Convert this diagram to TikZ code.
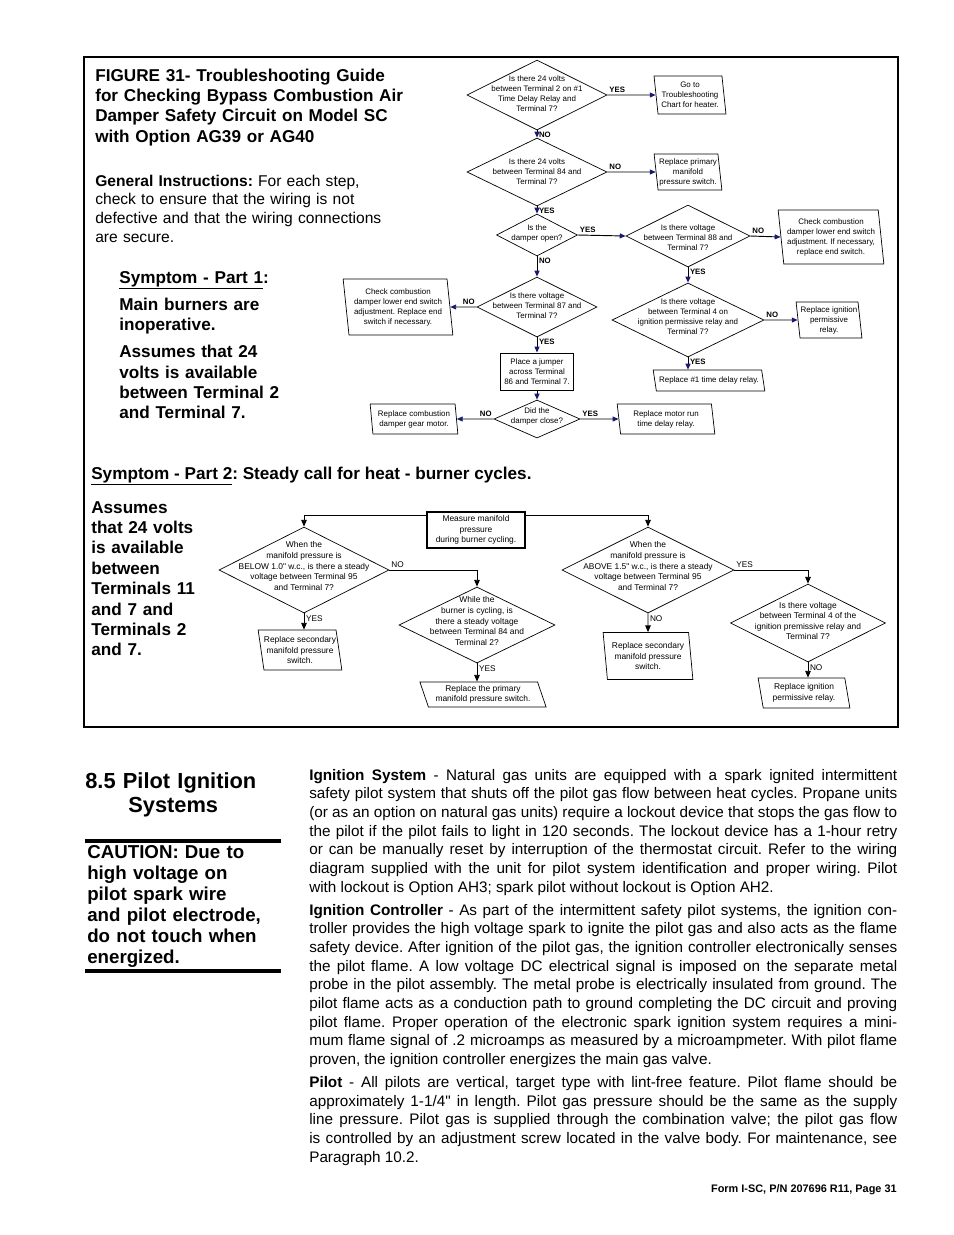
\documentclass[tikz,border=0pt]{standalone}
\usepackage{fontspec}
\setmainfont{Liberation Sans}[Ligatures=TeXOff]
\usetikzlibrary{positioning,arrows.meta,shapes.geometric,calc}
\definecolor{tipnavy}{RGB}{25,25,112}

\begin{document}
\frenchspacing
\begin{tikzpicture}[x=0.6415pt,y=-0.6415pt,
sz/.style 2 args={minimum width={#1*0.6415pt},minimum height={#2*0.6415pt}},
query/.style={draw,diamond,aspect=1,inner sep=0pt,line width=0.45pt},
qtext/.style={align=center,inner sep=0pt,font=\fontsize{5.1}{6.4}\selectfont},
qtextb/.style={align=center,inner sep=0pt,font=\fontsize{5.4}{6.8}\selectfont},
fix/.style={draw,trapezium,trapezium left angle=98,trapezium right angle=82,trapezium stretches=true,inner sep=0pt,line width=0.45pt,align=center,font=\fontsize{5.1}{6.4}\selectfont},
fixb/.style={fix,font=\fontsize{5.4}{6.8}\selectfont},
testbox/.style={draw,rectangle,inner sep=0pt,line width=0.6pt,align=center,font=\fontsize{5.1}{6.4}\selectfont},
measbox/.style={draw,rectangle,inner sep=0pt,line width=1.6pt,align=center,font=\fontsize{5.4}{6.8}\selectfont},
yn/.style={inner sep=1pt,font=\fontsize{5}{6}\selectfont\bfseries},
ynb/.style={inner sep=1pt,font=\fontsize{5.3}{6}\selectfont},
arr/.style={-{Triangle[length=3.8pt,width=3.2pt,color=tipnavy]},line width=0.6pt},
arrb/.style={-{Triangle[length=4.4pt,width=3.6pt]},line width=0.6pt},
bigtxt/.style={inner sep=0pt,align=left,font=\fontsize{11}{13.1}\selectfont\bfseries},
gentxt/.style={inner sep=0pt,align=left,font=\fontsize{10}{12}\selectfont},
body/.style={inner sep=0pt,text width={588*0.6415pt},align=justify,font=\fontsize{9.8}{12}\selectfont}]
\useasboundingbox (0,0) rectangle (954,1235);

% frame of figure 31
\draw[line width=1pt] (84,57) rectangle (898,727);

\node[bigtxt,text width={360*0.6415pt},anchor=base west] (title) at (95,81) {FIGURE 31- Troubleshooting Guide\\for Checking Bypass Combustion Air\\Damper Safety Circuit on Model SC\\with Option AG39 or AG40};
\node[gentxt,text width={330*0.6415pt},anchor=base west] (general) at (95,186) {\textbf{General Instructions:} For each step,\\check to ensure that the wiring is not\\defective and that the wiring connections\\are secure.};
\node[bigtxt,text width={240*0.6415pt},anchor=base west] (sym1) at (119,283) {\underline{Symptom - Part 1}:\\[4.3pt]Main burners are\\inoperative.\\[4.3pt]Assumes that 24\\volts is available\\between Terminal 2\\and Terminal 7.};
\node[bigtxt,anchor=base west] (sym2) at (91,479) {\underline{Symptom - Part 2}: Steady call for heat - burner cycles.};
\node[bigtxt,text width={160*0.6415pt},anchor=base west] (assume2) at (91,513) {Assumes\\that 24 volts\\is available\\between\\Terminals 11\\and 7 and\\Terminals 2\\and 7.};

% part 1
\node[query,sz={140}{70}] (d1) at (537,95) {};
\node[qtext] (d1t) at (537,94) {Is there 24 volts\\between Terminal 2 on \#1\\Time Delay Relay and\\Terminal 7?};
\node[fix,sz={72}{38}] (b1) at (690,95) {Go to\\Troubleshooting\\Chart for heater.};
\node[query,sz={140}{68}] (d2) at (537,172) {};
\node[qtext] (d2t) at (537,172) {Is there 24 volts\\between Terminal 84 and\\Terminal 7?};
\node[fix,sz={68}{36}] (b2) at (688,172) {Replace primary\\manifold\\pressure switch.};
\node[query,sz={81}{42}] (d3) at (537,235) {};
\node[qtext] (d3t) at (537,233) {Is the\\damper open?};
\node[query,sz={124}{62}] (d4) at (688,236) {};
\node[qtext] (d4t) at (688,238) {Is there voltage\\between Terminal 88 and\\Terminal 7?};
\node[fix,sz={106}{54}] (b3) at (831,237) {Check combustion\\damper lower end switch\\adjustment. If necessary,\\replace end switch.};
\node[query,sz={152}{74}] (d5) at (688,320) {};
\node[qtext] (d5t) at (688,317) {Is there voltage\\between Terminal 4 on\\ignition permissive relay and\\Terminal 7?};
\node[fix,sz={66}{36}] (b4) at (829,320) {Replace ignition\\permissive\\relay.};
\node[fix,trapezium left angle=112,trapezium right angle=68,sz={112}{21}] (b5) at (709,380.5) {Replace \#1 time delay relay.};
\node[query,sz={120}{60}] (d6) at (537,307) {};
\node[qtext] (d6t) at (537,306) {Is there voltage\\between Terminal 87 and\\Terminal 7?};
\node[fix,sz={110}{56}] (b6) at (398,307) {Check combustion\\damper lower end switch\\adjustment. Replace end\\switch if necessary.};
\node[testbox,sz={73}{37}] (jumper) at (537,371.5) {Place a jumper\\across Terminal\\86 and Terminal 7.};
\node[query,sz={86}{38}] (d7) at (537,419) {};
\node[qtext] (d7t) at (537,416) {Did the\\damper close?};
\node[fix,sz={88}{30}] (b7) at (414,419) {Replace combustion\\damper gear motor.};
\node[fix,sz={98}{30}] (b8) at (666,419) {Replace motor run\\time delay relay.};

\draw[arr] (d1.east) -- node[yn,pos=0,anchor=south west]{YES} (b1.west);
\draw[arr] (d1.south) -- node[yn,pos=0,anchor=north west]{NO} (d2.north);
\draw[arr] (d2.east) -- node[yn,pos=0,anchor=south west]{NO} (b2.west);
\draw[arr] (d2.south) -- node[yn,pos=0,anchor=north west]{YES} (d3.north);
\draw[arr] (d3.east) -- node[yn,pos=0,anchor=south west]{YES} (d4.west);
\draw[arr] (d4.east) -- node[yn,pos=0,anchor=south west]{NO} (b3.west);
\draw[arr] (d4.south) -- node[yn,pos=0,anchor=north west]{YES} (d5.north);
\draw[arr] (d5.east) -- node[yn,pos=0,anchor=south west]{NO} (b4.west);
\draw[arr] (d5.south) -- node[yn,pos=0,anchor=north west]{YES} (d5.south |- b5.north);
\draw[arr] (d3.south) -- node[yn,pos=0,anchor=north west]{NO} (d6.north);
\draw[arr] (d6.west) -- node[yn,pos=0,anchor=south east]{NO} (b6.east);
\draw[arr] (d6.south) -- node[yn,pos=0,anchor=north west]{YES} (jumper.north);
\draw[arr] (jumper.south) -- (d7.north);
\draw[arr] (d7.west) -- node[yn,pos=0,anchor=south east]{NO} (b7.east);
\draw[arr] (d7.east) -- node[yn,pos=0,anchor=south west]{YES} (b8.west);

% part 2
\node[measbox,sz={98}{36}] (meas) at (476,530) {Measure manifold\\pressure\\during burner cycling.};
\node[query,sz={170}{86}] (d8) at (304,570) {};
\node[qtextb] (d8t) at (304,566) {When the\\manifold pressure is\\BELOW 1.0" w.c., is there a steady\\voltage between Terminal 95\\and Terminal 7?};
\node[query,sz={156}{76}] (d9) at (477,625) {};
\node[qtextb] (d9t) at (477,621) {While the\\burner is cycling, is\\there a steady voltage\\between Terminal 84 and\\Terminal 2?};
\node[query,sz={172}{86}] (d10) at (648,570) {};
\node[qtextb] (d10t) at (648,566) {When the\\manifold pressure is\\ABOVE 1.5" w.c., is there a steady\\voltage between Terminal 95\\and Terminal 7?};
\node[query,sz={155}{78}] (d11) at (808,623) {};
\node[qtextb] (d11t) at (808,621) {Is there voltage\\between Terminal 4 of the\\ignition premissive relay and\\Terminal 7?};
\node[fixb,trapezium left angle=102,trapezium right angle=78,sz={81}{40}] (p1) at (300,650) {Replace secondary\\manifold pressure\\switch.};
\node[fixb,trapezium left angle=112,trapezium right angle=68,sz={127}{25}] (p2) at (483,694.5) {Replace the primary\\manifold pressure switch.};
\node[fixb,sz={90}{47}] (p3) at (648,656) {Replace secondary\\manifold pressure\\switch.};
\node[fixb,trapezium left angle=102,trapezium right angle=78,sz={92}{30}] (p4) at (804,693) {Replace ignition\\permissive relay.};

\draw[arrb] ([yshift=-3.2pt]meas.north west) -| (d8.north);
\draw[arrb] ([yshift=-3.2pt]meas.north east) -| (d10.north);
\draw[arrb] (d8.east) -| node[ynb,pos=0,anchor=south west]{NO} (d9.north);
\draw[arrb] (d10.east) -| node[ynb,pos=0,anchor=south west]{YES} (d11.north);
\draw[arrb] (d8.south) -- node[ynb,pos=0,anchor=north west]{YES} (d8.south |- p1.north);
\draw[arrb] (d9.south) -- node[ynb,pos=0,anchor=north west]{YES} (d9.south |- p2.north);
\draw[arrb] (d10.south) -- node[ynb,pos=0,anchor=north west]{NO} (p3.north);
\draw[arrb] (d11.south) -- node[ynb,pos=0,anchor=north west]{NO} (d11.south |- p4.north);

% section 8.5
\node[inner sep=0pt,text width={220*0.6415pt},align=left,font=\fontsize{14}{15.4}\selectfont\bfseries,anchor=base west] (sec) at (85,788.5) {8.5 Pilot Ignition\\\hspace*{27.6pt}Systems};
\draw[line width=2pt] (85,841) -- (281,841);
\node[inner sep=0pt,text width={230*0.6415pt},align=left,font=\fontsize{12}{13.5}\selectfont\bfseries,anchor=base west] (caution) at (87,858) {CAUTION: Due to\\high voltage on\\pilot spark wire\\and pilot electrode,\\do not touch when\\energized.};
\draw[line width=2pt] (85,971) -- (281,971);

\node[body,anchor=base west] (ignition) at (309,780) {\setlength{\parskip}{2.6pt}\textbf{Ignition System} - Natural gas units are equipped with a spark ignited intermittent\linebreak
safety pilot system that shuts off the pilot gas flow between heat cycles. Propane units\linebreak
(or as an option on natural gas units) require a lockout device that stops the gas flow to\linebreak
the pilot if the pilot fails to light in 120 seconds. The lockout device has a 1-hour retry\linebreak
or can be manually reset by interruption of the thermostat circuit. Refer to the wiring\linebreak
diagram supplied with the unit for pilot system identification and proper wiring. Pilot\linebreak
with lockout is Option AH3; spark pilot without lockout is Option AH2.\par
\textbf{Ignition Controller} - As part of the intermittent safety pilot systems, the ignition con-\linebreak
troller provides the high voltage spark to ignite the pilot gas and also acts as the flame\linebreak
safety device. After ignition of the pilot gas, the ignition controller electronically senses\linebreak
the pilot flame. A low voltage DC electrical signal is imposed on the separate metal\linebreak
probe in the pilot assembly. The metal probe is electrically insulated from ground. The\linebreak
pilot flame acts as a conduction path to ground completing the DC circuit and proving\linebreak
pilot flame. Proper operation of the electronic spark ignition system requires a mini-\linebreak
mum flame signal of .2 microamps as measured by a microampmeter. With pilot flame\linebreak
proven, the ignition controller energizes the main gas valve.\par
\textbf{Pilot} - All pilots are vertical, target type with lint-free feature. Pilot flame should be\linebreak
approximately 1-1/4" in length. Pilot gas pressure should be the same as the supply\linebreak
line pressure. Pilot gas is supplied through the combination valve; the pilot gas flow\linebreak
is controlled by an adjustment screw located in the valve body. For maintenance, see\linebreak
Paragraph 10.2.};

\node[inner sep=0pt,font=\fontsize{7}{8}\selectfont\bfseries,anchor=base east] (footer) at (897,1192) {Form I-SC, P/N 207696 R11, Page 31};
\end{tikzpicture}
\end{document}
